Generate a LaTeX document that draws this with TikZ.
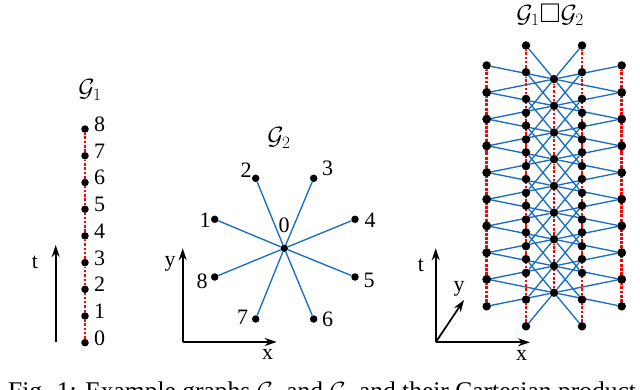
\documentclass[tikz,border=0pt]{standalone}
\usepackage{fontspec}
\setmainfont{Liberation Serif}
\usepackage{amssymb}
\usetikzlibrary{arrows.meta}
\definecolor{eblue}{RGB}{25,110,195}
\definecolor{ered}{RGB}{255,0,0}
\pgfdeclarelayer{bg}
\pgfsetlayers{bg,main}
\begin{document}
\begin{tikzpicture}[x=1pt,y=-1pt,
  dot/.style={circle,fill=black,inner sep=0pt,minimum size=7.5pt},
  pdot/.style={circle,fill=black,inner sep=0pt,minimum size=8.5pt},
  redge/.style={ered,line width=2.5pt,dash pattern=on 2.5pt off 1.8pt},
  bedge/.style={eblue,line width=1.35pt},
  axis/.style={line width=1.7pt,-{Stealth[length=12pt,width=8pt]}},
  lbl/.style={font=\fontsize{22}{24}\selectfont,inner sep=0pt},
  ttl/.style={font=\fontsize{27}{30}\selectfont,inner sep=0pt}]
\useasboundingbox (0,0) rectangle (640,390);

% ---------- G1 ----------
\node[ttl] (g1) at (90,90) {$\mathcal{G}_1$};
\foreach \t in {0,...,8}{
  \node[dot] (a\t) at (85,{342.7-26.7*\t}) {};
  \node[lbl] (al\t) at (99.5,{338-26.7*\t}) {\t};
}
\begin{pgfonlayer}{bg}
\foreach \t [evaluate=\t as \u using int(\t+1)] in {0,...,7}
  \draw[redge] (a\t) -- (a\u);
\end{pgfonlayer}
\coordinate (o1b) at (55.7,341.7);
\coordinate (o1t) at (55.7,245);
\draw[axis] (o1b) -- (o1t);
\node[lbl] (t1) at (35,262.5) {t};

% ---------- G2 ----------
\node[ttl] (g2) at (279,138) {$\mathcal{G}_2$};
\node[dot] (b0) at (284.3,248.3) {};
\foreach \i/\x/\y/\lx/\ly in {1/214.7/219.3/205/220, 2/255.7/178.3/246/170,
    3/313.7/178.3/327.5/168.5, 4/355/219.3/370/220, 5/355/277/369/280,
    6/313.7/319/327.5/319.5, 7/255.7/319/242.5/317.5, 8/214.7/277/202/281}{
  \node[dot] (b\i) at (\x,\y) {};
  \node[lbl] (bl\i) at (\lx,\ly) {\i};
}
\node[lbl] (bl0) at (284,225) {0};
\begin{pgfonlayer}{bg}
\foreach \i in {1,...,8}
  \draw[bedge] (b0) -- (b\i);
\end{pgfonlayer}
\coordinate (o2) at (182.7,342);
\coordinate (o2y) at (182.7,248.3);
\coordinate (o2x) at (276.7,342);
\draw[axis] (o2) -- (o2y);
\draw[axis] (o2) -- (o2x);
\node[lbl] (y2) at (170,264) {y};
\node[lbl] (x2) at (267.5,354) {x};

% ---------- G1 x G2 ----------
\node[ttl] (g3) at (550,15) {$\mathcal{G}_1\square\mathcal{G}_2$};
\foreach \i/\dx/\dy in {0/0/0, 1/-67.3/-13.6, 2/-28/-33.6, 3/28/-33.6,
    4/67.7/-13.6, 5/67.7/13.6, 6/28/33.6, 7/-28/33.6, 8/-67.3/13.6}{
  \foreach \t in {0,...,8}{
    \node[pdot] (p\t-\i) at ({554+\dx},{292.7-26.7*\t+\dy}) {};
  }
}
\begin{pgfonlayer}{bg}
\foreach \t in {0,...,8}{
  \foreach \i in {1,...,8}{
    \draw[bedge] (p\t-0) -- (p\t-\i);
  }
}
\foreach \i in {0,...,8}{
  \foreach \t [evaluate=\t as \u using int(\t+1)] in {0,...,7}{
    \draw[redge] (p\t-\i) -- (p\u-\i);
  }
}
\end{pgfonlayer}
\coordinate (o3) at (435.7,342.3);
\coordinate (o3t) at (435.7,248.3);
\coordinate (o3x) at (530,342.3);
\coordinate (o3y) at (464,300);
\draw[axis] (o3) -- (o3t);
\draw[axis] (o3) -- (o3x);
\draw[axis] (o3) -- (o3y);
\node[lbl] (t3) at (421,265.5) {t};
\node[lbl] (y3) at (459,289) {y};
\node[lbl] (x3) at (521.5,355) {x};

% ---------- caption (cut by the page edge) ----------
\node[font=\fontsize{25.5}{28}\selectfont,inner sep=0pt,anchor=base] (cap) at (322,399)
  {Fig. 1: Example graphs $\mathcal{G}_1$ and $\mathcal{G}_2$ and their Cartesian product};
\end{tikzpicture}
\end{document}
